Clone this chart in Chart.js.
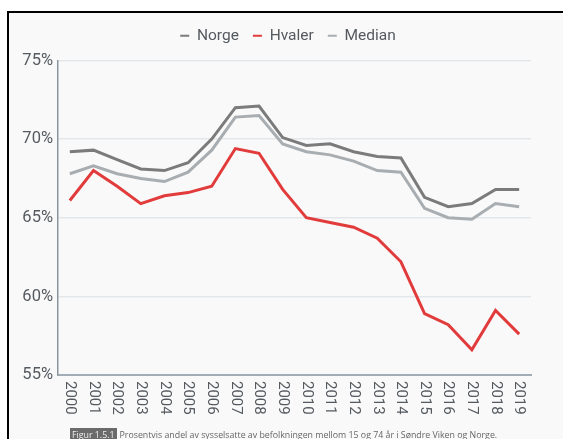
<!DOCTYPE html>
<html>
<head>
<meta charset="utf-8">
<script src="https://cdn.jsdelivr.net/npm/chart.js@4.4.1/dist/chart.umd.min.js"></script>
<style>
    html, body { margin: 0; padding: 0; background: #fff; overflow: hidden; }
    body { width: 563px; height: 439px; position: relative; }
    #frame {
        position: absolute; left: 7px; top: 11px; width: 600px; height: 500px;
        border-top: 2px solid #000; border-left: 2px solid #000; background: #f9f9f9;
    }
    #wrap { position: absolute; left: 9px; top: 13px; width: 554px; height: 426px; }
    #caption {
        position: absolute; left: 70px; top: 429px; white-space: nowrap;
        font-family: "Open Sans", sans-serif; font-size: 8.8px; color: #666;
    }
    #caption span { background: #6b6b6b; color: #eee; padding: 1px 2px; margin-right: 3px; }
</style>
</head>
<body>
<div id="frame"></div>
<div id="wrap"><canvas id="chart"></canvas></div>
<div id="caption"><span>Figur 1.5.1</span>Prosentvis andel av sysselsatte av befolkningen mellom 15 og 74 år i Søndre Viken og Norge.</div>
<script>
const years = ['2000', '2001', '2002', '2003', '2004', '2005', '2006', '2007', '2008', '2009',
    '2010', '2011', '2012', '2013', '2014', '2015', '2016', '2017', '2018', '2019'];
const norge = [69.2, 69.3, 68.7, 68.1, 68.0, 68.5, 70.0, 72.0, 72.1, 70.1,
    69.6, 69.7, 69.2, 68.9, 68.8, 66.3, 65.7, 65.9, 66.8, 66.8];
const hvaler = [66.1, 68.0, 67.0, 65.9, 66.4, 66.6, 67.0, 69.4, 69.1, 66.8,
    65.0, 64.7, 64.4, 63.7, 62.2, 58.9, 58.2, 56.6, 59.1, 57.6];
const median = [67.8, 68.3, 67.8, 67.5, 67.3, 67.9, 69.3, 71.4, 71.5, 69.7,
    69.2, 69.0, 68.6, 68.0, 67.9, 65.6, 65.0, 64.9, 65.9, 65.7];
const yTicks = [55, 60, 65, 70, 75];

const labelColor = '#555a60';

// x labels are turned clockwise, chart.js only turns them the other way
const rotatedXLabels = {
    id: 'rotatedXLabels',
    afterLayout(chart) {
        // legend sits centred on the whole canvas, a bit higher than the padding gives
        const legend = chart.legend;
        legend.left += 18;
        legend.right += 18;
        legend.top -= 7;
        legend.bottom -= 7;
    },
    afterDraw(chart) {
        const ctx = chart.ctx;
        const xScale = chart.scales.x;
        ctx.save();
        ctx.fillStyle = labelColor;
        ctx.font = '15px Roboto';
        ctx.textAlign = 'left';
        ctx.textBaseline = 'middle';
        years.forEach((year, i) => {
            ctx.save();
            ctx.translate(xScale.getPixelForTick(i), xScale.top + 6);
            ctx.rotate(Math.PI / 2);
            ctx.fillText(year, 0, 0);
            ctx.restore();
        });
        ctx.restore();
    }
};

const config = {
    type: 'line',
    data: {
        labels: years,
        datasets: [
            { label: 'Norge', data: norge, borderColor: '#7b7b7b', backgroundColor: '#7b7b7b' },
            { label: 'Hvaler', data: hvaler, borderColor: '#e23b3b', backgroundColor: '#e23b3b' },
            { label: 'Median', data: median, borderColor: '#a8adb1', backgroundColor: '#a8adb1' }
        ]
    },
    options: {
        responsive: true,
        maintainAspectRatio: false,
        animation: false,
        elements: {
            line: { borderWidth: 3, tension: 0 },
            point: { radius: 0 }
        },
        layout: { padding: { top: 8, right: 32, bottom: 0, left: 0 } },
        plugins: {
            legend: {
                labels: {
                    color: labelColor,
                    font: { family: 'Roboto', size: 15.5 },
                    boxWidth: 9,
                    boxHeight: 2,
                    padding: 14,
                    generateLabels(chart) {
                        const items = Chart.defaults.plugins.legend.labels.generateLabels(chart);
                        items.forEach(item => { item.lineWidth = 0; });
                        return items;
                    }
                }
            },
            tooltip: { enabled: false }
        },
        scales: {
            x: {
                offset: true,
                grid: { display: false },
                border: { color: '#a3adb5', width: 2 },
                ticks: { display: false },
                afterFit(scale) { scale.height = 64; }
            },
            y: {
                min: 55,
                max: 75,
                afterBuildTicks(scale) { scale.ticks = yTicks.map(v => ({ value: v })); },
                grid: { color: '#e3e7ea', lineWidth: 1.5, drawTicks: false },
                border: { color: '#8796a2', width: 1.5 },
                ticks: {
                    color: labelColor,
                    padding: 5,
                    font: { family: 'Roboto', size: 16.5 },
                    callback: v => v + '%'
                },
                afterFit(scale) { scale.width = 49; }
            }
        }
    },
    plugins: [rotatedXLabels]
};

new Chart(document.getElementById('chart').getContext('2d'), config);
</script>
</body>
</html>
